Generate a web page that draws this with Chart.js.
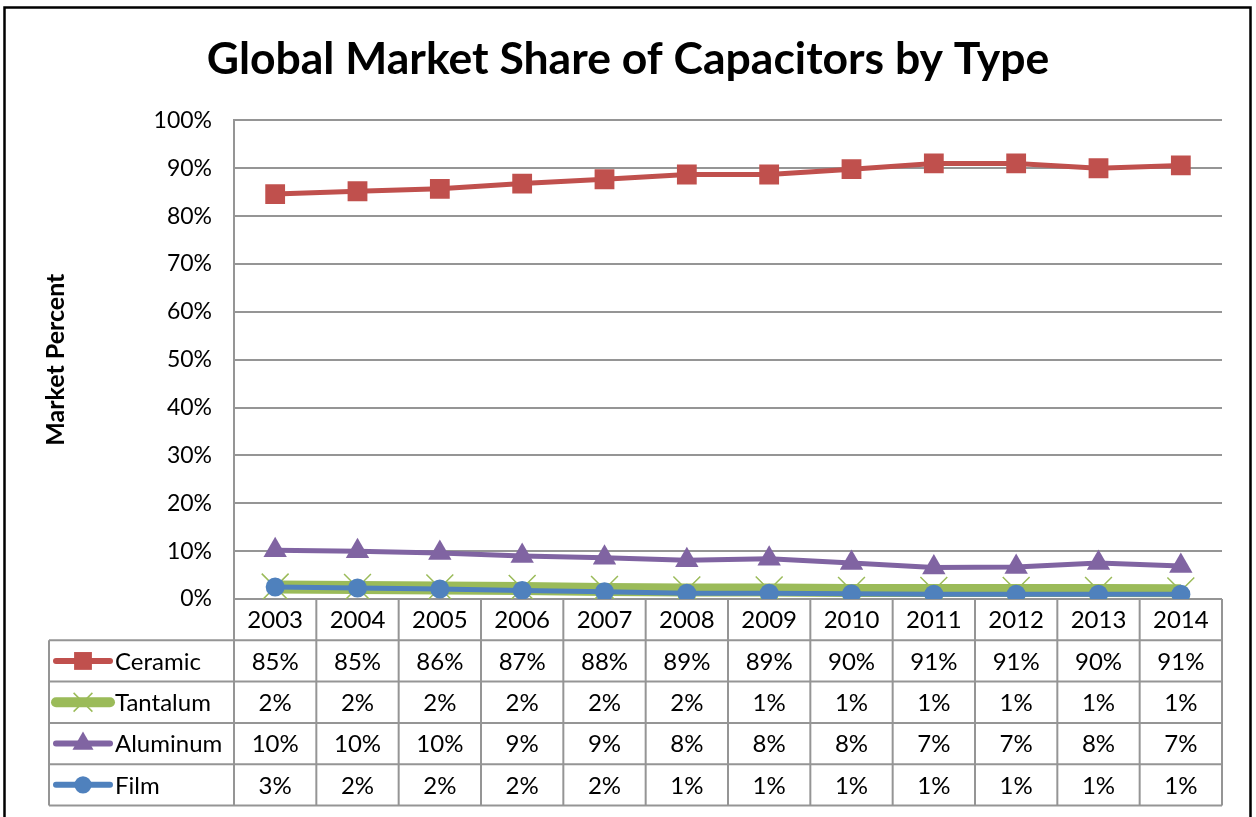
<!DOCTYPE html>
<html>
<head>
<meta charset="utf-8">
<script src="https://cdn.jsdelivr.net/npm/chart.js@4.4.1/dist/chart.umd.min.js"></script>
<style>
  html, body { margin: 0; padding: 0; background: #fff; }
  #chart { display: block; }
</style>
</head>
<body>
<canvas id="chart" width="1256" height="817"></canvas>
<script>
// dados
const years = ['2003', '2004', '2005', '2006', '2007', '2008', '2009', '2010', '2011', '2012', '2013', '2014'];
const ceramic = [84.6, 85.2, 85.7, 86.8, 87.7, 88.7, 88.7, 89.8, 91.0, 91.0, 90.0, 90.6];
const tantalum = [2.5, 2.4, 2.3, 2.2, 2.0, 1.9, 1.9, 1.8, 1.8, 1.8, 1.8, 1.7];
const aluminum = [10.2, 10.0, 9.6, 9.0, 8.6, 8.1, 8.4, 7.5, 6.6, 6.7, 7.5, 6.9];
const film = [2.5, 2.3, 2.1, 1.8, 1.5, 1.2, 1.2, 1.1, 1.0, 1.0, 1.0, 1.0];

// textos da tabela de dados
const ceramicLabels = ['85%', '85%', '86%', '87%', '88%', '89%', '89%', '90%', '91%', '91%', '90%', '91%'];
const tantalumLabels = ['2%', '2%', '2%', '2%', '2%', '2%', '1%', '1%', '1%', '1%', '1%', '1%'];
const aluminumLabels = ['10%', '10%', '10%', '9%', '9%', '8%', '8%', '8%', '7%', '7%', '8%', '7%'];
const filmLabels = ['3%', '2%', '2%', '2%', '2%', '1%', '1%', '1%', '1%', '1%', '1%', '1%'];

const yTicks = [0, 10, 20, 30, 40, 50, 60, 70, 80, 90, 100];

const FONT = 'Lato, "Open Sans", sans-serif';

const series = [
    { name: 'Ceramic', data: ceramic, labels: ceramicLabels, color: '#C0504D', width: 5, marker: 'rect', radius: 14 },
    { name: 'Tantalum', data: tantalum, labels: tantalumLabels, color: '#9BBB59', width: 13, marker: 'crossRot', radius: 19 },
    { name: 'Aluminum', data: aluminum, labels: aluminumLabels, color: '#8064A2', width: 5, marker: 'triangle', radius: 13.5 },
    { name: 'Film', data: film, labels: filmLabels, color: '#4F81BD', width: 5, marker: 'circle', radius: 9.5 }
];

// desenha o marcador da legenda (igual ao do gráfico)
function drawMarker(ctx, s, x, y, scale) {
    const r = s.radius * scale;
    ctx.save();
    ctx.fillStyle = s.color;
    ctx.strokeStyle = s.color;
    ctx.beginPath();
    if (s.marker === 'rect') {
        const h = Math.SQRT1_2 * r;
        ctx.rect(x - h, y - h, 2 * h, 2 * h);
        ctx.fill();
    } else if (s.marker === 'triangle') {
        ctx.moveTo(x, y - r);
        ctx.lineTo(x + r * 0.866, y + r / 2);
        ctx.lineTo(x - r * 0.866, y + r / 2);
        ctx.closePath();
        ctx.fill();
    } else if (s.marker === 'circle') {
        ctx.arc(x, y, r, 0, Math.PI * 2);
        ctx.fill();
    } else {
        const d = Math.SQRT1_2 * r;
        ctx.lineWidth = 1.5;
        ctx.moveTo(x - d, y - d); ctx.lineTo(x + d, y + d);
        ctx.moveTo(x + d, y - d); ctx.lineTo(x - d, y + d);
        ctx.stroke();
    }
    ctx.restore();
}

// tabela de dados abaixo do gráfico + moldura
const dataTable = {
    id: 'dataTable',
    afterDraw(chart) {
        const { ctx, chartArea } = chart;
        const x = chart.scales.x;
        const half = (chartArea.right - chartArea.left) / years.length / 2;
        const top = chartArea.bottom;
        const rowH = 41.3;
        const tableLeft = 49;

        ctx.save();
        ctx.strokeStyle = '#959595';
        ctx.lineWidth = 2;
        ctx.beginPath();
        // linhas horizontais
        ctx.moveTo(chartArea.left, top + rowH);
        ctx.lineTo(chartArea.right, top + rowH);
        for (let r = 1; r <= series.length + 1; r++) {
            ctx.moveTo(tableLeft, top + r * rowH);
            ctx.lineTo(chartArea.right, top + r * rowH);
        }
        // linhas verticais
        ctx.moveTo(tableLeft, top + rowH);
        ctx.lineTo(tableLeft, top + (series.length + 1) * rowH);
        ctx.moveTo(chartArea.left, top);
        ctx.lineTo(chartArea.left, top + (series.length + 1) * rowH);
        years.forEach((y, i) => {
            const cx = x.getPixelForValue(i) + half;
            ctx.moveTo(cx, top);
            ctx.lineTo(cx, top + (series.length + 1) * rowH);
        });
        ctx.stroke();

        ctx.fillStyle = '#000';
        ctx.font = '24px ' + FONT;
        ctx.textAlign = 'center';
        ctx.textBaseline = 'middle';
        years.forEach((y, i) => {
            ctx.fillText(y, x.getPixelForValue(i), top + rowH / 2 + 1);
        });
        series.forEach((s, r) => {
            const cy = top + (r + 1.5) * rowH + 1;
            ctx.textAlign = 'center';
            ctx.fillStyle = '#000';
            s.labels.forEach((lab, i) => {
                ctx.fillText(lab, x.getPixelForValue(i), cy);
            });
            // ícone da legenda
            ctx.save();
            ctx.strokeStyle = s.color;
            ctx.lineCap = 'round';
            ctx.lineWidth = s.name === 'Tantalum' ? 10 : 6;
            ctx.beginPath();
            ctx.moveTo(56, cy - 1);
            ctx.lineTo(110, cy - 1);
            ctx.stroke();
            ctx.restore();
            drawMarker(ctx, s, 83, cy - 1, s.name === 'Tantalum' ? 0.7 : 0.9);
            ctx.textAlign = 'left';
            ctx.fillStyle = '#000';
            ctx.fillText(s.name, 115, cy);
        });

        // moldura externa
        ctx.strokeStyle = '#000';
        ctx.lineWidth = 2.5;
        ctx.beginPath();
        ctx.moveTo(4.5, 817);
        ctx.lineTo(4.5, 7.5);
        ctx.lineTo(1250.5, 7.5);
        ctx.lineTo(1250.5, 817);
        ctx.stroke();
        ctx.restore();
    }
};

new Chart(document.getElementById('chart'), {
    type: 'line',
    data: {
        labels: years,
        datasets: series.map((s, i) => ({
            label: s.name,
            data: s.data,
            borderColor: s.color,
            backgroundColor: s.color,
            borderWidth: s.width,
            pointStyle: s.marker,
            pointRadius: s.radius,
            pointBorderWidth: s.marker === 'crossRot' ? 1.5 : 0,
            pointBorderColor: s.color,
            pointBackgroundColor: s.color,
            fill: false,
            tension: 0,
            order: series.length - 1 - i
        }))
    },
    options: {
        responsive: false,
        animation: false,
        layout: { padding: 0 },
        plugins: {
            legend: { display: false },
            tooltip: { enabled: false },
            title: {
                display: true,
                text: 'Global Market Share of Capacitors by Type',
                color: '#000',
                font: { family: FONT, size: 44.5, weight: 'bold', lineHeight: 1.2 },
                padding: { top: 33, bottom: 34 }
            }
        },
        scales: {
            x: {
                type: 'category',
                offset: true,
                grid: { display: false },
                border: { display: false },
                ticks: { display: false },
                afterFit(scale) { scale.height = 218; }
            },
            y: {
                min: 0,
                max: 100,
                afterBuildTicks(scale) { scale.ticks = yTicks.map(v => ({ value: v })); },
                ticks: {
                    color: '#000',
                    padding: 22,
                    font: { family: FONT, size: 23 },
                    callback: v => v + '%'
                },
                grid: { color: '#959595', lineWidth: 2, drawTicks: false },
                border: { color: '#959595', width: 2 },
                title: {
                    display: true,
                    text: 'Market Percent',
                    color: '#000',
                    font: { family: FONT, size: 25, weight: 'bold', lineHeight: 1.2 },
                    padding: { top: 41, bottom: 0 }
                },
                afterFit(scale) { scale.width = 234; }
            },
            // eixo vazio só para reservar a margem direita
            yRight: {
                position: 'right',
                min: 0,
                max: 100,
                grid: { display: false },
                border: { display: false },
                ticks: { display: false },
                afterFit(scale) { scale.width = 34; }
            }
        }
    },
    plugins: [dataTable]
});
</script>
</body>
</html>
